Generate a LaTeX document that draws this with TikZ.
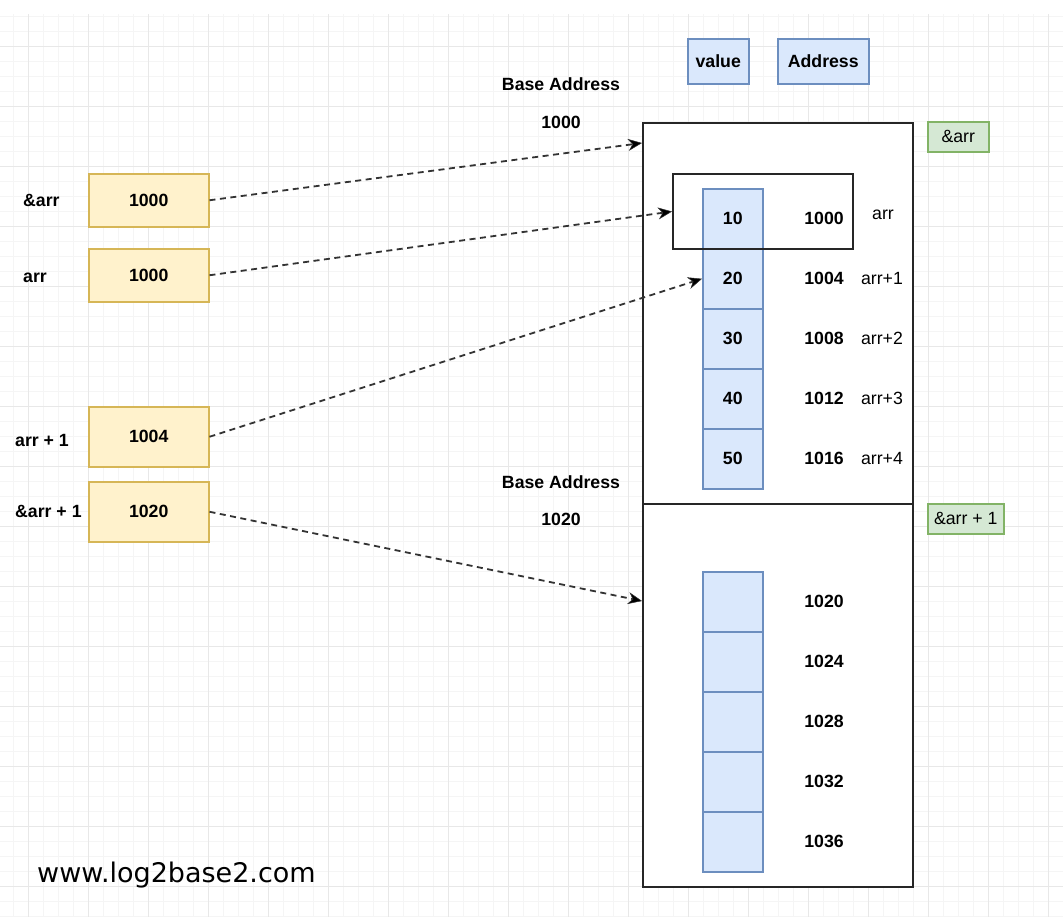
\documentclass[tikz,border=0pt]{standalone}
\usepackage{fontspec}
\setmainfont{Liberation Sans}
\newfontfamily\sitefont{DejaVu Sans}
\usetikzlibrary{arrows.meta}

\definecolor{gridminor}{HTML}{F5F5F5}
\definecolor{gridmajor}{HTML}{E8E8E8}
\definecolor{ptrfill}{HTML}{FFF2CC}
\definecolor{ptrline}{HTML}{D6B656}
\definecolor{cellfill}{HTML}{DAE8FC}
\definecolor{cellline}{HTML}{6C8EBF}
\definecolor{tagfill}{HTML}{D5E8D4}
\definecolor{tagline}{HTML}{82B366}
\definecolor{linkcol}{HTML}{333333}

\tikzset{
  txt/.style={inner sep=0pt, font=\fontsize{17.7}{20}\selectfont},
  btxt/.style={inner sep=0pt, font=\bfseries\fontsize{17.7}{20}\selectfont},
  ptrbox/.style={draw=ptrline, fill=ptrfill, line width=1.5pt, inner sep=0pt,
    minimum width=120pt, anchor=north west, font=\bfseries\fontsize{17.7}{20}\selectfont},
  cellbox/.style={draw=cellline, fill=cellfill, line width=1.5pt, inner sep=0pt,
    minimum width=60pt, minimum height=60pt, anchor=north west,
    font=\bfseries\fontsize{17.7}{20}\selectfont},
  keybox/.style={draw=cellline, fill=cellfill, line width=1.5pt, inner sep=0pt,
    minimum height=45pt, anchor=north west, font=\bfseries\fontsize{17.7}{20}\selectfont},
  tagbox/.style={draw=tagline, fill=tagfill, line width=1.5pt, inner sep=0pt,
    minimum height=30pt, anchor=north west, font=\fontsize{17.7}{20}\selectfont},
  memblock/.style={draw=black!85, line width=2pt, inner sep=0pt, anchor=north west},
  link/.style={draw=linkcol, dashed, dash pattern=on 6pt off 4.5pt, line width=1.8pt,
    -{Stealth[length=14pt, width=12pt, inset=4.5pt, fill=black, line width=0.5pt, sharp]}},
}

\begin{document}
\begin{tikzpicture}[x=1pt, y=-1pt]
  \useasboundingbox (0,0) rectangle (1063,922);
  \fill[white] (0,0) rectangle (1063,922);

  % background grid
  \foreach \gx in {13,28,...,1063} \draw[gridminor, line width=1pt] (\gx,14) -- (\gx,917);
  \foreach \gy in {16,31,...,917} \draw[gridminor, line width=1pt] (0,\gy) -- (1063,\gy);
  \foreach \gx in {28,88,...,1063} \draw[gridmajor, line width=1pt] (\gx,14) -- (\gx,917);
  \foreach \gy in {46,106,...,917} \draw[gridmajor, line width=1pt] (0,\gy) -- (1063,\gy);

  % memory blocks
  \node[memblock, fill=white, minimum width=270pt, minimum height=381pt] (blockA) at (642,122) {};
  \node[memblock, fill=white, minimum width=270pt, minimum height=383pt] (blockB) at (642,503) {};

  % legend
  \node[keybox, minimum width=61pt] (keyval) at (687,38) {value};
  \node[keybox, minimum width=91pt] (keyaddr) at (777,38) {Address};
  \node[tagbox, minimum width=61pt] (tagA) at (927,121) {\&arr};
  \node[tagbox, minimum width=76pt] (tagB) at (927,503) {\&arr + 1};

  % base address captions
  \node[btxt] (baseA) at (561,84) {Base Address};
  \node[btxt] (baseAval) at (561,122) {1000};
  \node[btxt] (baseB) at (561,482) {Base Address};
  \node[btxt] (baseBval) at (561,519) {1020};

  % first array cells
  \foreach \v [count=\i from 0] in {10,20,30,40,50} {
    \node[cellbox] (a\i) at (702,{188+60*\i}) {\v};
    \pgfmathtruncatemacro{\addr}{1000+4*\i}
    \node[btxt] (aa\i) at (824,{218+60*\i}) {\addr};
  }
  % whole-array frame around the first element
  \node[memblock, minimum width=180pt, minimum height=75pt] (arrframe) at (672,173) {};
  \node[txt] (lab0) at (883,215) {arr};
  \foreach \i in {1,2,3,4} \node[txt] (lab\i) at (882,{278+60*\i-60}) {arr+\i};

  % second array cells
  \foreach \i in {0,...,4} {
    \node[cellbox] (b\i) at (702,{571+60*\i}) {};
    \pgfmathtruncatemacro{\addr}{1020+4*\i}
    \node[btxt] (ba\i) at (824,{601+60*\i}) {\addr};
  }

  % pointer variables
  \node[ptrbox, minimum height=53pt] (p1) at (88,173) {1000};
  \node[ptrbox, minimum height=53pt] (p2) at (88,248) {1000};
  \node[ptrbox, minimum height=60pt] (p3) at (88,406) {1004};
  \node[ptrbox, minimum height=60pt] (p4) at (88,481) {1020};
  \node[btxt, anchor=west] (n1) at (23,200) {\&arr};
  \node[btxt, anchor=west] (n2) at (23,278) {arr};
  \node[btxt, anchor=west] (n3) at (15,440) {arr + 1};
  \node[btxt, anchor=west] (n4) at (15,511) {\&arr + 1};

  % pointer targets
  \coordinate (tA) at (642,143);
  \coordinate (tB) at (642,601);
  \draw[link] (p1.east) -- (tA);
  \draw[link] (p2.east) -- (arrframe.west);
  \draw[link] (p3.east) -- (a1.west);
  \draw[link] (p4.east) -- (tB);

  \node[anchor=base west, inner sep=0pt, font=\sitefont\fontsize{27}{31}\selectfont] (site) at (37,882) {www.log2base2.com};
\end{tikzpicture}
\end{document}
